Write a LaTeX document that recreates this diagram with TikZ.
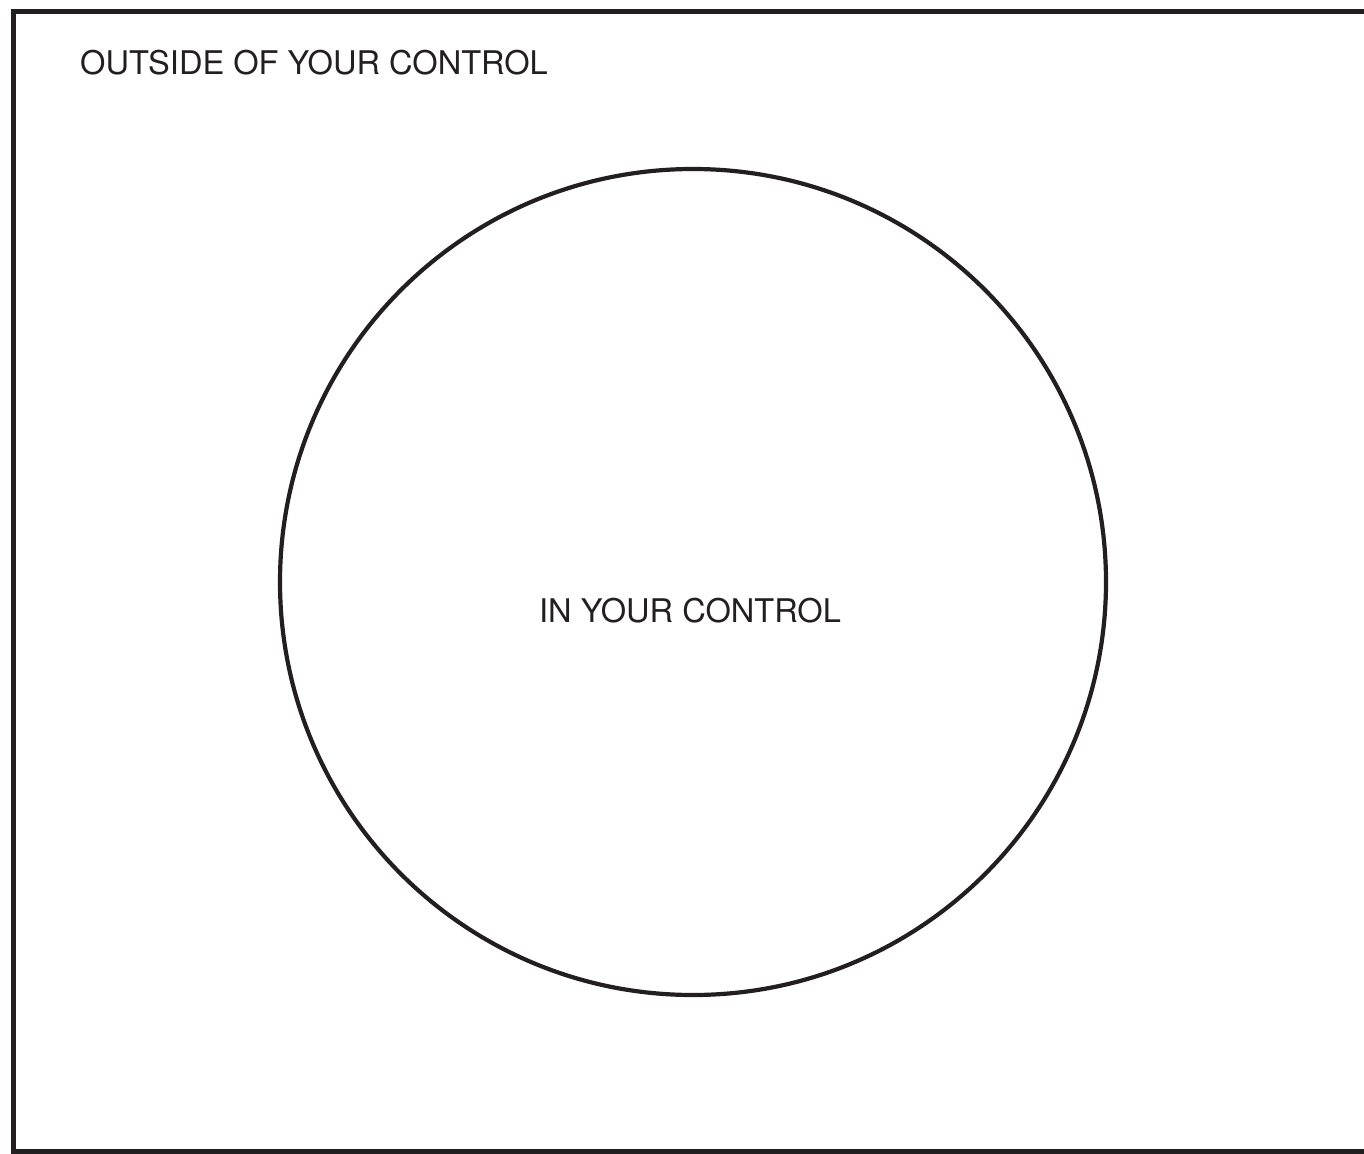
\documentclass[tikz,border=0pt]{standalone}
\usepackage{fontspec}
\setmainfont{TeX Gyre Heros}
\definecolor{ink}{HTML}{231F20}
\begin{document}
\begin{tikzpicture}[x=1pt,y=-1pt,
  frame/.style={draw=ink,line width=5pt},
  ring/.style={draw=ink,line width=4.2pt},
  label/.style={text=ink,font=\fontsize{32.6}{38}\selectfont,inner sep=0pt}]
\useasboundingbox (0,0) rectangle (1364,1153);
\begin{scope}
\clip (0,0) rectangle (1364,1153);
\draw[frame] (13.5,11.5) rectangle (1400,1151.5);
\end{scope}
\node[ring,circle,minimum size=826pt,inner sep=0pt] (circ) at (693,582) {};
\node[label,anchor=base west] (outside) at (80,75) {OUTSIDE OF YOUR CONTROL};
\node[label,anchor=base] (inside) at (690,622) {IN YOUR CONTROL};
\end{tikzpicture}
\end{document}
